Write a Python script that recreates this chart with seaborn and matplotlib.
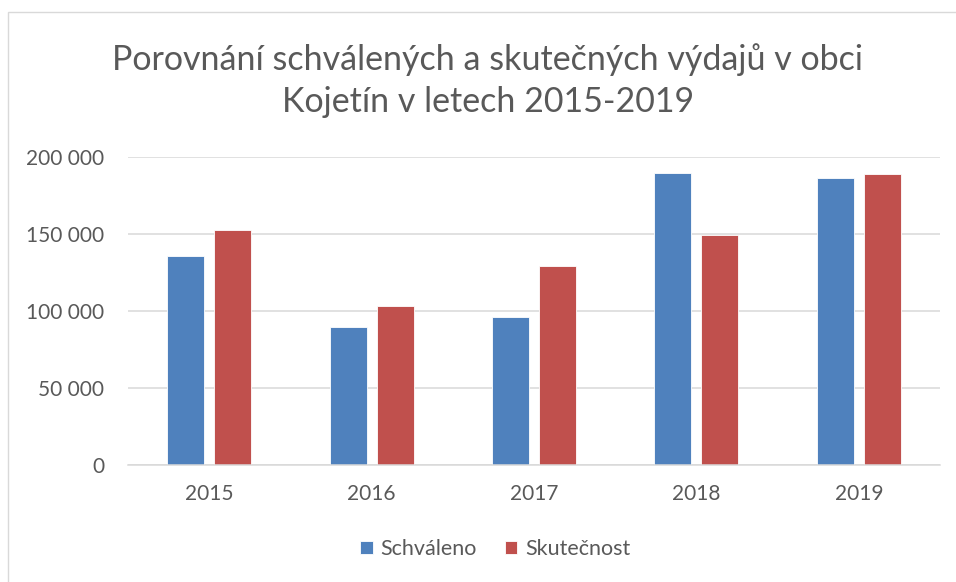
import matplotlib
matplotlib.use("Agg")
import matplotlib.pyplot as plt
import seaborn as sns
import pandas as pd
from matplotlib.ticker import FuncFormatter
from matplotlib.patches import Rectangle

years = ["2015", "2016", "2017", "2018", "2019"]
schvaleno = [135400, 89700, 96200, 189200, 186000]
skutecnost = [152400, 103100, 129100, 149400, 189000]
series_names = ["Schváleno", "Skutečnost"]
yticks = [0, 50000, 100000, 150000, 200000]

df = pd.DataFrame({
    "rok": years * 2,
    "serie": [series_names[0]] * len(years) + [series_names[1]] * len(years),
    "hodnota": schvaleno + skutecnost,
})

sns.set_theme(style="white")
plt.rcParams["font.family"] = ["Lato", "DejaVu Sans"]

W, H = 956, 582
fig = plt.figure(figsize=(W / 100, H / 100), dpi=100)
ax = fig.add_axes([128 / W, 1 - 465 / H, (940 - 128) / W, (465 - 156.7) / H])

sns.barplot(data=df, x="rok", y="hodnota", hue="serie", order=years,
            hue_order=series_names, palette=["#4F81BD", "#C0504D"],
            saturation=1, width=0.579, gap=0.21, edgecolor="white", linewidth=0.6,
            errorbar=None, ax=ax)

ax.set_ylim(0, 200000)
ax.set_yticks(yticks)
ax.yaxis.set_major_formatter(FuncFormatter(lambda v, p: f"{int(v):,}".replace(",", " ")))
ax.grid(axis="y", color="#D9D9D9", linewidth=1.1)
ax.set_axisbelow(True)
for s in ["top", "right", "left"]:
    ax.spines[s].set_visible(False)
ax.spines["bottom"].set_color("#D9D9D9")
ax.spines["bottom"].set_linewidth(1.1)
ax.set_xlabel("")
ax.set_ylabel("")
ax.tick_params(axis="both", length=0, labelsize=15, colors="#595959")
ax.tick_params(axis="y", pad=17)
ax.tick_params(axis="x", pad=14)

leg = ax.get_legend()
handles, labels = ax.get_legend_handles_labels()
leg.remove()
fig.legend(handles, labels, loc="center", bbox_to_anchor=(495 / W, 1 - 549 / H),
           ncol=2, frameon=False, fontsize=15.5, labelcolor="#595959",
           handlelength=0.6, handleheight=0.6, handletextpad=0.35, columnspacing=1.3)

fig.text(488 / W, 1 - 60 / H, "Porovnání schválených a skutečných výdajů v obci",
         ha="center", va="center", fontsize=24.5, color="#595959")
fig.text(488 / W, 1 - 102 / H, "Kojetín v letech 2015-2019",
         ha="center", va="center", fontsize=24.5, color="#595959")

fig.patches.append(Rectangle((8 / W, -0.05), 1.1, 1 - 12 / H + 0.05, transform=fig.transFigure,
                             fill=False, edgecolor="#D9D9D9", linewidth=1.0))

fig.savefig("out.png", dpi=100, facecolor="white")
